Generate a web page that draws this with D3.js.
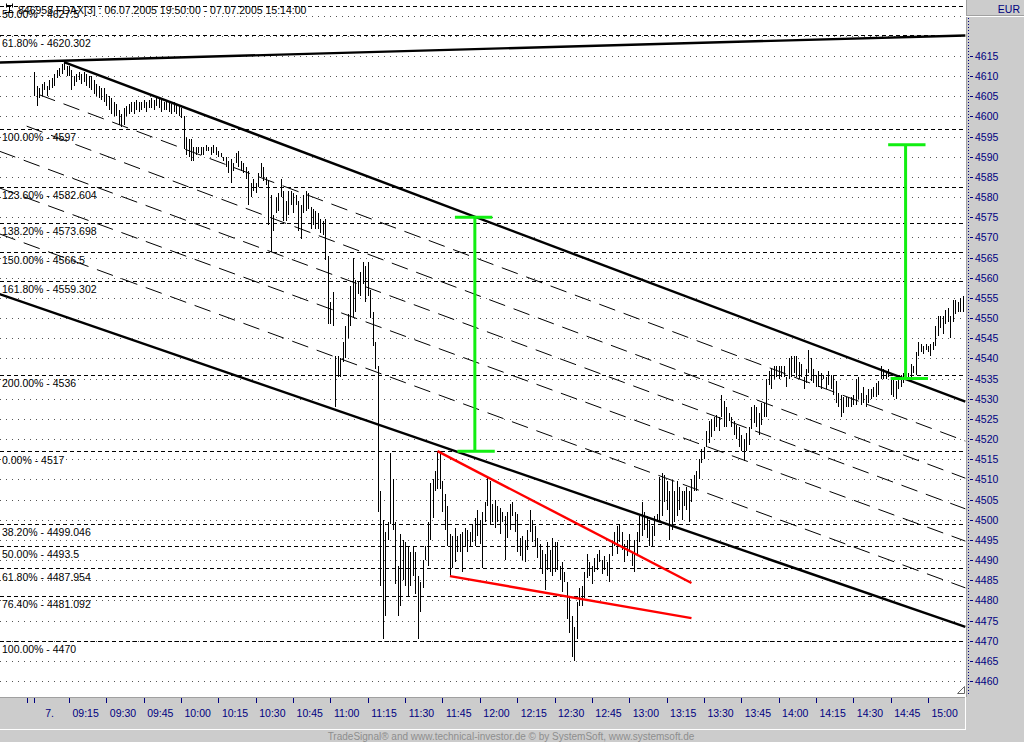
<!DOCTYPE html>
<html><head><meta charset="utf-8">
<script src="https://cdn.jsdelivr.net/npm/d3@7"></script>
<style>
html,body{margin:0;padding:0;background:#cccccc;}
svg{display:block;font-family:"Liberation Sans",Arial,sans-serif;}
</style></head><body>
<svg id="chart" width="1024" height="742"></svg>
<script>
// ---------------- DATA ----------------
const headerText = "846958 FDAX[3] : 06.07.2005 19:50:00 - 07.07.2005 15:14:00";
const currencyLabel = "EUR";
const footerText = "TradeSignal\u00AE and www.technical-investor.de \u00A9 by  SystemSoft, www.systemsoft.de";
const firstBarTime = "09:01";           // 1-minute bars
const barHighs = [
4611,4607.5,4607,4608,4608.5,4607.5,4609,4609.5,4610.5,4611.5,
4612,4613,4613.5,4612.5,4612.5,4611.5,4610,4610.5,4611,4610.5,
4611,4610.5,4610,4610,4609,4608,4607.5,4607,4607,4605.5,
4605,4604.5,4603.5,4603,4601.5,4600.5,4602,4602.5,4603,4603.5,
4603.5,4604,4603.5,4603.5,4604,4603.5,4604,4604.5,4604,4604.5,
4604.5,4604,4603.5,4604,4603.5,4603,4603.5,4603,4602.5,4602,
4600,4595,4594.5,4594.5,4592.5,4592.5,4592.5,4592.5,4592.5,4593,
4592.5,4592.5,4593,4592.5,4591.5,4591,4590,4590,4589,4589.5,
4588.5,4591,4591.5,4589,4588.5,4587.5,4586.5,4583.5,4584.5,4583.5,
4586,4588.5,4587.5,4585,4584,4580.5,4575.5,4580,4581,4584.5,
4581.5,4579,4581.5,4581.5,4581,4580.5,4579,4578,4580.5,4581.5,
4581,4577.5,4577,4576.5,4576,4574.5,4574,4574.5,4565.5,4554,
4556.5,4540.5,4540.5,4540,4544,4548,4551,4558,4565,4559.5,
4559,4561.5,4564,4563,4564,4557,4551.5,4544,4538,4507,
4500,4497,4499.5,4516.5,4510,4499.5,4488.5,4496.5,4495,4494.5,
4493.5,4492,4493.5,4492,4486,4484.5,4490,4493.5,4499.5,4509,
4510,4512,4517,4517,4509.5,4506.5,4503.5,4496.5,4496,4498,
4496,4496.5,4497,4498,4497.5,4497,4499,4500.5,4502.5,4500,
4502,4504.5,4510.5,4509.5,4504,4505,4503.5,4503,4502,4501,
4502,4504,4504.5,4502,4501.5,4495.5,4496,4495,4497.5,4502.5,
4500,4498.5,4495.5,4494,4492.5,4491.5,4494.5,4492.5,4495.5,4494.5,
4494.5,4488.5,4489.5,4487,4484.5,4480.5,4476,4473.5,4479.5,4483,
4483.5,4487,4491.5,4489.5,4488.5,4490.5,4491.5,4492.5,4490,4491,
4489.5,4491.5,4494.5,4497,4498.5,4499,4497,4494,4495,4496.5,
4492,4495,4497,4501,4504.5,4502,4501,4500,4498.5,4501,
4501.5,4510.5,4511.5,4511,4509.5,4507,4509.5,4507,4509.5,4508,
4507,4507,4508,4507,4510,4511,4512,4515,4517.5,4518,
4522,4524.5,4525,4525.5,4526,4525.5,4531,4529.5,4528,4526.5,
4525.5,4524.5,4523.5,4523,4521,4520,4521.5,4523,4528,4528.5,
4528,4526.5,4529,4529,4535,4537,4537.5,4538,4538,4538,
4538,4538,4535.5,4540,4540.5,4540.5,4540.5,4539,4538.5,4535.5,
4537.5,4542,4540,4537.5,4536,4537,4536.5,4536,4535.5,4537,
4536,4536,4534.5,4531.5,4531,4530.5,4530.5,4530.5,4530.5,4531,
4535,4535.5,4531.5,4533,4531,4532.5,4532.5,4533,4534,4534.5,
4538,4537.5,4537,4537.5,4535,4535,4534.5,4535.5,4536,4536.5,
4535.5,4536.5,4538.5,4538,4541.5,4544,4543.5,4543,4543.5,4543,
4543.5,4544,4548,4550.5,4550.5,4550.5,4552,4552.5,4550.5,4554.5,
4554.5,4554,4555,4555.5];
const barLows = [
4605,4602.5,4604.5,4605,4606.5,4605,4606.5,4607,4607.5,4609.5,
4610,4610.5,4611.5,4610,4610,4606.5,4607.5,4608.5,4609,4608,
4608.5,4607.5,4607,4606.5,4605.5,4605,4604.5,4604,4603.5,4602.5,
4601.5,4600.5,4600,4600,4598,4597.5,4598,4600,4600.5,4601,
4600.5,4601.5,4601,4601.5,4602,4601,4602,4602,4601.5,4602.5,
4602,4601,4601.5,4601.5,4601,4600.5,4601,4600.5,4600,4599.5,
4592,4590.5,4590,4589,4589,4590.5,4591,4590.5,4590.5,4591.5,
4591.5,4590.5,4591,4590.5,4590,4590,4589,4587.5,4586,4583.5,
4586.5,4588.5,4587.5,4586.5,4586,4584.5,4578,4580,4581.5,4581,
4582.5,4585,4584,4583,4573,4566.5,4571.5,4576,4576.5,4580,
4574,4574,4575.5,4578,4576,4578,4571.5,4569.5,4576,4576.5,
4577,4572,4573,4572,4572,4571,4570.5,4564.5,4548.5,4548.5,
4548,4528,4535.5,4535.5,4539,4540,4545,4548,4550,4551.5,
4556,4555.5,4558.5,4554,4555.5,4550,4543,4537.5,4502,4483.5,
4470.5,4476,4495,4499,4497.5,4484,4476,4478.5,4485,4483.5,
4481,4483.5,4486,4481.5,4470.5,4477,4483,4490,4488.5,4495,
4500.5,4507,4507.5,4507.5,4502,4497.5,4493.5,4486,4488,4489.5,
4492,4492,4487,4493.5,4492,4493.5,4494.5,4493.5,4496,4494,
4488,4499.5,4503.5,4499,4499.5,4498,4499.5,4496.5,4499.5,4490,
4495.5,4497.5,4501,4497,4492,4491,4490,4489.5,4492.5,4497,
4494.5,4493.5,4490.5,4488,4486.5,4482.5,4487.5,4487,4486,4487,
4487.5,4485,4482,4484.5,4475.5,4472,4466,4465,4470.5,4478.5,
4478.5,4480.5,4485.5,4486,4484,4487,4487.5,4489.5,4486.5,4487.5,
4486,4484.5,4491,4493.5,4491.5,4494.5,4492.5,4489.5,4491,4492,
4488.5,4487,4491,4494.5,4496,4497.5,4495.5,4493.5,4493.5,4496,
4499.5,4499.5,4501,4504.5,4502.5,4495,4497.5,4499.5,4501,4502.5,
4500,4503.5,4502.5,4499.5,4504.5,4507,4507,4510,4514,4515,
4518,4519,4520.5,4522,4523,4522,4525.5,4523,4523,4524.5,
4523,4521,4520,4518,4517,4514.5,4517,4518.5,4522.5,4524,
4523,4521,4523.5,4525.5,4525.5,4533.5,4532.5,4535,4535.5,4535,
4535.5,4535.5,4533,4535,4535.5,4536.5,4535.5,4535,4535.5,4532.5,
4534,4536.5,4534.5,4534,4533,4533,4532.5,4535,4532.5,4533.5,
4532.5,4531,4529,4528,4525.5,4526.5,4528,4528,4528,4528.5,
4528.5,4530,4528.5,4529,4528,4529,4530,4530.5,4530.5,4531,
4535,4535,4535,4535.5,4531,4530.5,4530,4532.5,4533,4534,
4535,4535,4535.5,4536.5,4536,4540.5,4541.5,4541,4542,4541.5,
4540.5,4542,4543,4545.5,4547.5,4546,4548.5,4549,4545,4549,
4551,4551.5,4551.5,4551.5];

const timeTickLabels = ["09:15","09:30","09:45","10:00","10:15","10:30","10:45","11:00","11:15","11:30","11:45","12:00",
  "12:15","12:30","12:45","13:00","13:15","13:30","13:45","14:00","14:15","14:30","14:45","15:00"];
const dayTickTimes = ["08:58","09:01"];
const dayLabel = "7.";
const priceTickLabels = [4460,4465,4470,4475,4480,4485,4490,4495,4500,4505,4510,4515,4520,4525,4530,4535,
  4540,4545,4550,4555,4560,4565,4570,4575,4580,4585,4590,4595,4600,4605,4610,4615];
const extraGridPrices = [4620,4625];

// Fibonacci levels
const fibPercents = ["50.00%","61.80%","100.00%","123.60%","138.20%","150.00%","161.80%","200.00%",
  "0.00%","38.20%","50.00%","61.80%","76.40%","100.00%"];
const fibPrices = ["4627.5","4620.302","4597","4582.604","4573.698","4566.5","4559.302","4536",
  "4517","4499.046","4493.5","4487.954","4481.092","4470"];

// Trend lines: [time, price] anchor pairs
const outerTopLine   = [["08:47",4613.4],["15:15",4620.1]];
const channelUpper   = [["09:13",4613.5],["15:15",4529.3]];
const channelLower   = [["08:47",4556.0],["15:15",4473.4]];
const parallelLines  = [
  [["09:03",4605.4],["15:15",4519.5]],
  [["08:58",4597.6],["15:15",4510.3]],
  [["08:47",4591.4],["15:15",4502.7]],
  [["08:47",4582.3],["15:15",4494.7]],
  [["08:47",4570.9],["15:15",4483.1]]
];
const wedgeUpper = [["11:43",4517.0],["13:25",4484.3]];
const wedgeLower = [["11:48",4486.0],["13:25",4475.6]];
// Measured move markers: vertical time, bottom price, top price, cap times
const moveTimes   = ["11:58","14:51"];
const moveLows    = [4517, 4535];
const moveHighs   = [4575, 4593];
const topCapTimes = [["11:50","12:05"],["14:44","14:59"]];
const lowCapTimes = [["11:51","12:06"],["14:45","15:00"]];

// ---------------- DRAW ----------------
const toMin = t => { const [h,m] = t.split(":").map(Number); return h*60+m; };
const W = 1024, H = 742, plotR = 966, plotB = 696;
const svg = d3.select("#chart");
const xs = d3.scaleLinear().domain([toMin("09:15"), toMin("15:00")]).range([69, 928]);
const ys = d3.scaleLinear().domain([4460, 4615]).range([681, 56]);
const NAVY = "#000080";

svg.append("rect").attr("width",W).attr("height",H).attr("fill","#cccccc");
svg.append("rect").attr("x",0).attr("y",0).attr("width",plotR).attr("height",plotB+1).attr("fill","#ffffff");

svg.append("defs").append("clipPath").attr("id","plotclip")
  .append("rect").attr("x",0).attr("y",0).attr("width",plotR).attr("height",plotB);
const plot = svg.append("g").attr("clip-path","url(#plotclip)");
const crisp = v => Math.round(v) + 0.5;

// dotted grid
plot.append("g").selectAll("line").data(priceTickLabels.concat(extraGridPrices)).join("line")
  .attr("x1",0).attr("x2",plotR).attr("y1",d=>crisp(ys(d))).attr("y2",d=>crisp(ys(d)))
  .attr("stroke","#555").attr("stroke-width",1).attr("stroke-dasharray","1,5");

// fib dashed horizontals + labels
const fibs = fibPercents.map((p,i)=>({p, v:fibPrices[i]}));
plot.append("g").selectAll("line").data(fibs).join("line")
  .attr("x1",0).attr("x2",plotR).attr("y1",d=>crisp(ys(+d.v))).attr("y2",d=>crisp(ys(+d.v)))
  .attr("stroke","#000").attr("stroke-width",1).attr("stroke-dasharray","4,3");
plot.append("g").selectAll("text").data(fibs).join("text")
  .attr("x",2).attr("y",d=>ys(+d.v)+12.5)
  .attr("font-size","10.5px").attr("fill","#000")
  .text(d=>d.p+" - "+d.v);

// header
plot.append("text").attr("x",18).attr("y",13.5).attr("font-size","10.5px").attr("fill","#000").text(headerText);
const icon = plot.append("g").attr("stroke","#000").attr("stroke-width",1).attr("fill","none");
icon.append("path").attr("d","M4.5,12.5 H13.5 M9.5,12.5 V5.5 M6.5,5.5 H12.5 M6.5,3.5 V7.5 M12.5,3.5 V7.5");

const line = d3.line().x(d=>xs(toMin(d[0]))).y(d=>ys(d[1]));

// thin dashed parallels
plot.append("g").selectAll("path").data(parallelLines).join("path")
  .attr("d",line).attr("fill","none").attr("stroke","#000").attr("stroke-width",1).attr("stroke-dasharray","17,9");

// thick black lines
plot.append("g").selectAll("path").data([outerTopLine, channelUpper, channelLower]).join("path")
  .attr("d",line).attr("fill","none").attr("stroke","#000").attr("stroke-width",2.4);

// price bars (high-low)
const t0 = toMin(firstBarTime);
const bars = barHighs.map((h,i)=>({m:t0+i, h, l:barLows[i]}));
plot.append("g").selectAll("line").data(bars).join("line")
  .attr("x1",d=>crisp(xs(d.m))).attr("x2",d=>crisp(xs(d.m)))
  .attr("y1",d=>Math.round(ys(d.h))).attr("y2",d=>Math.max(Math.round(ys(d.l)), Math.round(ys(d.h))+2))
  .attr("stroke","#000").attr("stroke-width",1).attr("shape-rendering","crispEdges");

// red wedge
plot.append("g").selectAll("path").data([wedgeUpper, wedgeLower]).join("path")
  .attr("d",line).attr("fill","none").attr("stroke","#ff0000").attr("stroke-width",2.4);

// green measured moves
const gm = plot.append("g").attr("stroke","#11ee11").attr("stroke-width",3).attr("fill","none");
moveTimes.forEach((t,i)=>{
  gm.append("path").attr("d",line([[t,moveLows[i]],[t,moveHighs[i]]]));
  gm.append("path").attr("d",line([[topCapTimes[i][0],moveHighs[i]],[topCapTimes[i][1],moveHighs[i]]]));
  gm.append("path").attr("d",line([[lowCapTimes[i][0],moveLows[i]],[lowCapTimes[i][1],moveLows[i]]]));
});

// resize glyph
svg.append("path").attr("d","M957.5,693.5 L964.5,686.5 L964.5,693.5 Z").attr("fill","#fff").attr("stroke","#666");

// ---- right axis panel ----
svg.append("rect").attr("x",plotR).attr("y",0).attr("width",W-plotR).attr("height",697).attr("fill","#cccccc");
svg.append("line").attr("x1",966.5).attr("x2",966.5).attr("y1",0).attr("y2",697).attr("stroke","#a0a0a0");
svg.append("line").attr("x1",966).attr("x2",W).attr("y1",15.5).attr("y2",15.5).attr("stroke","#a0a0a0");
svg.append("line").attr("x1",966).attr("x2",W).attr("y1",16.5).attr("y2",16.5).attr("stroke","#ffffff");
svg.append("text").attr("x",1020).attr("y",12.5).attr("text-anchor","end").attr("font-size","10.5px").attr("fill",NAVY).text(currencyLabel);
svg.append("line").attr("x1",968.5).attr("x2",968.5).attr("y1",18).attr("y2",694)
  .attr("stroke",NAVY).attr("stroke-dasharray","1,2");
const ra = svg.append("g");
ra.selectAll("line").data(priceTickLabels).join("line")
  .attr("x1",970).attr("x2",973).attr("y1",d=>crisp(ys(d))).attr("y2",d=>crisp(ys(d))).attr("stroke",NAVY);
ra.selectAll("text").data(priceTickLabels).join("text")
  .attr("x",975).attr("y",d=>ys(d)+4).attr("font-size","10.5px").attr("fill",NAVY).text(d=>d);

// ---- bottom axis strip ----
svg.append("line").attr("x1",0).attr("x2",966).attr("y1",697.5).attr("y2",697.5).attr("stroke","#a0a0a0");
svg.append("line").attr("x1",0).attr("x2",966).attr("y1",729.5).attr("y2",729.5).attr("stroke","#ffffff");
svg.append("line").attr("x1",965.5).attr("x2",965.5).attr("y1",697).attr("y2",730).attr("stroke","#ffffff");
const ba = svg.append("g");
ba.selectAll("line.t").data(timeTickLabels.concat(dayTickTimes)).join("line")
  .attr("x1",d=>crisp(xs(toMin(d)))).attr("x2",d=>crisp(xs(toMin(d))))
  .attr("y1",698).attr("y2",703).attr("stroke",NAVY);
ba.selectAll("text").data(timeTickLabels).join("text")
  .attr("x",d=>xs(toMin(d))+3.5).attr("y",716.5).attr("font-size","10.5px").attr("fill",NAVY).text(d=>d);
ba.append("text").attr("x",xs(toMin(dayTickTimes[1]))+11).attr("y",716.5)
  .attr("font-size","10.5px").attr("fill",NAVY).text(dayLabel);

svg.append("text").attr("x",511).attr("y",739.5).attr("text-anchor","middle")
  .attr("font-size","10px").attr("fill","#8e8e8e").text(footerText);
</script>
</body></html>
